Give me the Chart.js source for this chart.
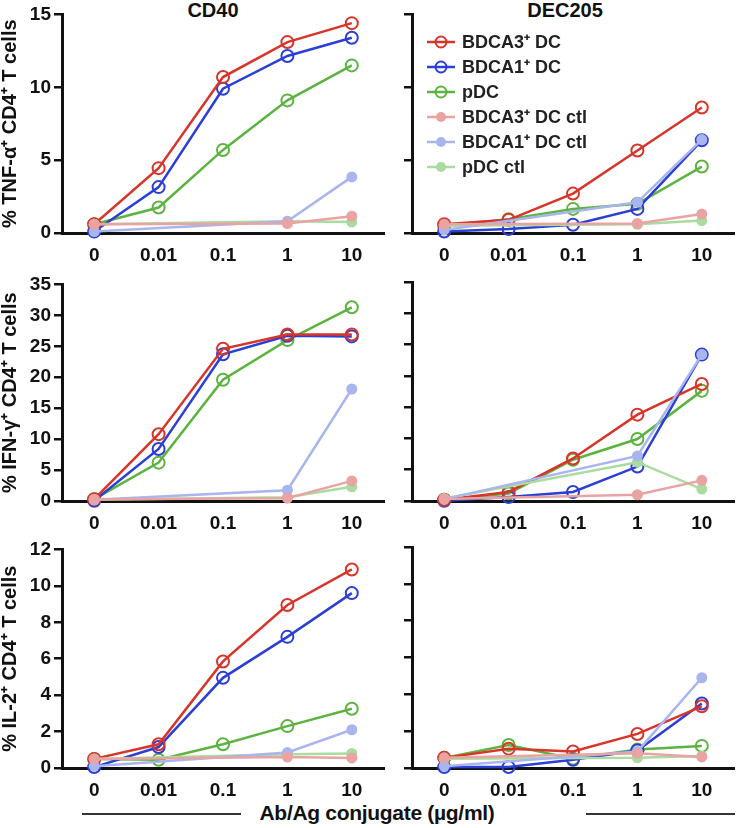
<!DOCTYPE html>
<html>
<head>
<meta charset="utf-8">
<script src="https://cdn.jsdelivr.net/npm/chart.js@4.4.1/dist/chart.umd.min.js"></script>
<style>
body { margin: 0; background: #fff; }
#fig { position: relative; width: 742px; height: 828px; font-family: "Liberation Sans", Arial, sans-serif; color: #111; }
#fig canvas { position: absolute; }
.colTitle { position: absolute; top: -1px; width: 200px; text-align: center; font-weight: bold; font-size: 20px; }
#xTitle { position: absolute; left: 227px; width: 300px; top: 801px; text-align: center; font-weight: bold; font-size: 21px; letter-spacing: -0.3px; font-family: "Liberation Sans Narrow", "Liberation Sans", Arial, sans-serif; }
.rule { position: absolute; top: 813px; height: 1.5px; background: #333; }
</style>
</head>
<body>
<div id="fig">
  <div class="colTitle" style="left:113px">CD40</div>
  <div class="colTitle" style="left:465px">DEC205</div>
  <canvas id="tnfCd40"></canvas>
  <canvas id="tnfDec"></canvas>
  <canvas id="ifnCd40"></canvas>
  <canvas id="ifnDec"></canvas>
  <canvas id="il2Cd40"></canvas>
  <canvas id="il2Dec"></canvas>
  <div class="rule" style="left:82px;width:159px"></div>
  <div class="rule" style="left:586px;width:149px"></div>
  <div id="xTitle">Ab/Ag conjugate (µg/ml)</div>
</div>
<script>
// doses on the x axis
const doses = ['0', '0.01', '0.1', '1', '10'];

const seriesNames = ['BDCA3⁺ DC', 'BDCA1⁺ DC', 'pDC', 'BDCA3⁺ DC ctl', 'BDCA1⁺ DC ctl', 'pDC ctl'];
const seriesColors = ['#d8352a', '#2b3fd6', '#5cb33f', '#eaa3a3', '#a9b5ef', '#a9dc9e'];
const seriesOpen = [true, true, true, false, false, false];

// one row per series, same order as seriesNames (ctl only measured at 0, 1 and 10)
const tnfCd40 = [
    [0.6, 4.45, 10.7, 13.1, 14.4],
    [0.1, 3.15, 9.9, 12.15, 13.4],
    [0.6, 1.75, 5.7, 9.1, 11.5],
    [0.6, null, null, 0.65, 1.15],
    [0.1, null, null, 0.8, 3.85],
    [0.6, null, null, 0.8, 0.75]
];
const tnfDec = [
    [0.6, 0.9, 2.7, 5.65, 8.6],
    [0.1, 0.27, 0.57, 1.65, 6.35],
    [0.5, 0.95, 1.65, 2.0, 4.55],
    [0.6, null, null, 0.65, 1.3],
    [0.2, null, null, 2.1, 6.4],
    [0.5, null, null, 0.6, 0.85]
];
const ifnCd40 = [
    [0.3, 10.8, 24.6, 26.9, 26.9],
    [0.05, 8.4, 23.7, 26.7, 26.6],
    [0.3, 6.2, 19.6, 26.0, 31.3],
    [0.3, null, null, 0.45, 3.25],
    [0.2, null, null, 1.75, 18.1],
    [0.2, null, null, 0.6, 2.3]
];
const ifnDec = [
    [0.2, 1.45, 6.8, 13.8, 18.7],
    [0.05, 0.65, 1.45, 5.5, 23.4],
    [0.2, 1.2, 6.6, 9.9, 17.6],
    [0.3, null, null, 1.0, 3.3],
    [0.3, null, null, 7.2, 23.4],
    [0.4, null, null, 6.2, 1.9]
];
const il2Cd40 = [
    [0.5, 1.3, 5.85, 8.95, 10.9],
    [0.05, 1.15, 4.95, 7.2, 9.6],
    [0.5, 0.45, 1.3, 2.3, 3.25],
    [0.5, null, null, 0.6, 0.55],
    [0.1, null, null, 0.85, 2.1],
    [0.5, null, null, 0.75, 0.8]
];
const il2Dec = [
    [0.55, 1.05, 0.9, 1.85, 3.35],
    [0.05, 0.05, 0.45, 0.95, 3.5],
    [0.55, 1.25, 0.5, 1.0, 1.2],
    [0.55, null, null, 0.8, 0.6],
    [0.1, null, null, 0.9, 4.9],
    [0.5, null, null, 0.55, 0.65]
];

const yTitles = ['% TNF-α⁺ CD4⁺ T cells', '% IFN-γ⁺ CD4⁺ T cells', '% IL-2⁺ CD4⁺ T cells'];
const yMaxes = [15, 35, 12];
const ySteps = [5, 5, 2];

const FONT = '"Liberation Sans", Arial, sans-serif';
const INK = '#111';

// legend drawn inside the top right panel
const panelLegend = {
    id: 'panelLegend',
    afterDraw(chart) {
        const ctx = chart.ctx;
        ctx.save();
        ctx.font = 'bold 18px ' + FONT;
        ctx.textBaseline = 'middle';
        for (let i = 0; i < seriesNames.length; i++) {
            const y = 42 + i * 25;
            const c = seriesColors[i];
            ctx.strokeStyle = c;
            ctx.lineWidth = 2.5;
            ctx.beginPath();
            ctx.moveTo(35, y);
            ctx.lineTo(63, y);
            ctx.stroke();
            ctx.beginPath();
            ctx.arc(49, y, seriesOpen[i] ? 5.5 : 5, 0, Math.PI * 2);
            if (seriesOpen[i]) {
                ctx.lineWidth = 2;
                ctx.stroke();
            } else {
                ctx.fillStyle = c;
                ctx.fill();
            }
            ctx.fillStyle = '#222';
            ctx.fillText(seriesNames[i], 70, y + 1);
        }
        ctx.restore();
    }
};

function makePanel(id, box, rows, row, isLeft, withLegend) {
    const cv = document.getElementById(id);
    cv.width = box.w;
    cv.height = box.h;
    cv.style.left = box.x + 'px';
    cv.style.top = box.y + 'px';

    const datasets = rows.map((vals, i) => ({
        label: seriesNames[i],
        data: vals,
        borderColor: seriesColors[i],
        backgroundColor: seriesColors[i],
        borderWidth: 2.5,
        pointRadius: seriesOpen[i] ? 6 : 5.5,
        pointBorderWidth: seriesOpen[i] ? 2 : 0,
        pointBackgroundColor: seriesOpen[i] ? 'rgba(255,255,255,0)' : seriesColors[i],
        pointBorderColor: seriesColors[i],
        tension: 0,
        spanGaps: true,
        clip: false,
        order: seriesOpen[i] ? 2 : 1
    }));

    return new Chart(cv, {
        type: 'line',
        data: { labels: doses, datasets: datasets },
        plugins: withLegend ? [panelLegend] : [],
        options: {
            responsive: false,
            animation: false,
            layout: { padding: { top: box.padTop, right: 1, left: 0, bottom: 0 } },
            plugins: { legend: { display: false }, tooltip: { enabled: false } },
            scales: {
                x: {
                    type: 'category',
                    offset: true,
                    grid: { display: false, drawTicks: false },
                    border: { display: true, color: INK, width: 3 },
                    ticks: {
                        color: INK,
                        font: { family: FONT, size: 19, weight: 'bold' },
                        padding: 11,
                        maxRotation: 0,
                        autoSkip: false
                    },
                    afterFit(scale) { scale.height = box.xH; }
                },
                y: {
                    min: 0,
                    max: yMaxes[row],
                    grid: { display: true, drawOnChartArea: false, drawTicks: true, tickLength: 8, lineWidth: 2.5, color: INK },
                    border: { display: true, color: INK, width: 3 },
                    ticks: {
                        display: isLeft,
                        stepSize: ySteps[row],
                        color: INK,
                        font: { family: FONT, size: 19, weight: 'bold' },
                        padding: 3
                    },
                    title: {
                        display: isLeft,
                        text: yTitles[row],
                        color: INK,
                        font: { family: FONT, size: 20, weight: 'bold', lineHeight: 1 },
                        padding: { top: 0, bottom: 0 }
                    },
                    afterFit(scale) { scale.width = isLeft ? 62 : 20; }
                }
            }
        }
    });
}

makePanel('tnfCd40', { x: 0, y: 0, w: 392, h: 270, padTop: 14, xH: 37 }, tnfCd40, 0, true, false);
makePanel('tnfDec', { x: 392, y: 0, w: 350, h: 270, padTop: 14, xH: 37 }, tnfDec, 0, false, true);
makePanel('ifnCd40', { x: 0, y: 270, w: 392, h: 265, padTop: 12, xH: 34 }, ifnCd40, 1, true, false);
makePanel('ifnDec', { x: 392, y: 270, w: 350, h: 265, padTop: 12, xH: 34 }, ifnDec, 1, false, false);
makePanel('il2Cd40', { x: 0, y: 535, w: 392, h: 265, padTop: 12, xH: 32 }, il2Cd40, 2, true, false);
makePanel('il2Dec', { x: 392, y: 535, w: 350, h: 265, padTop: 12, xH: 32 }, il2Dec, 2, false, false);
</script>
</body>
</html>
